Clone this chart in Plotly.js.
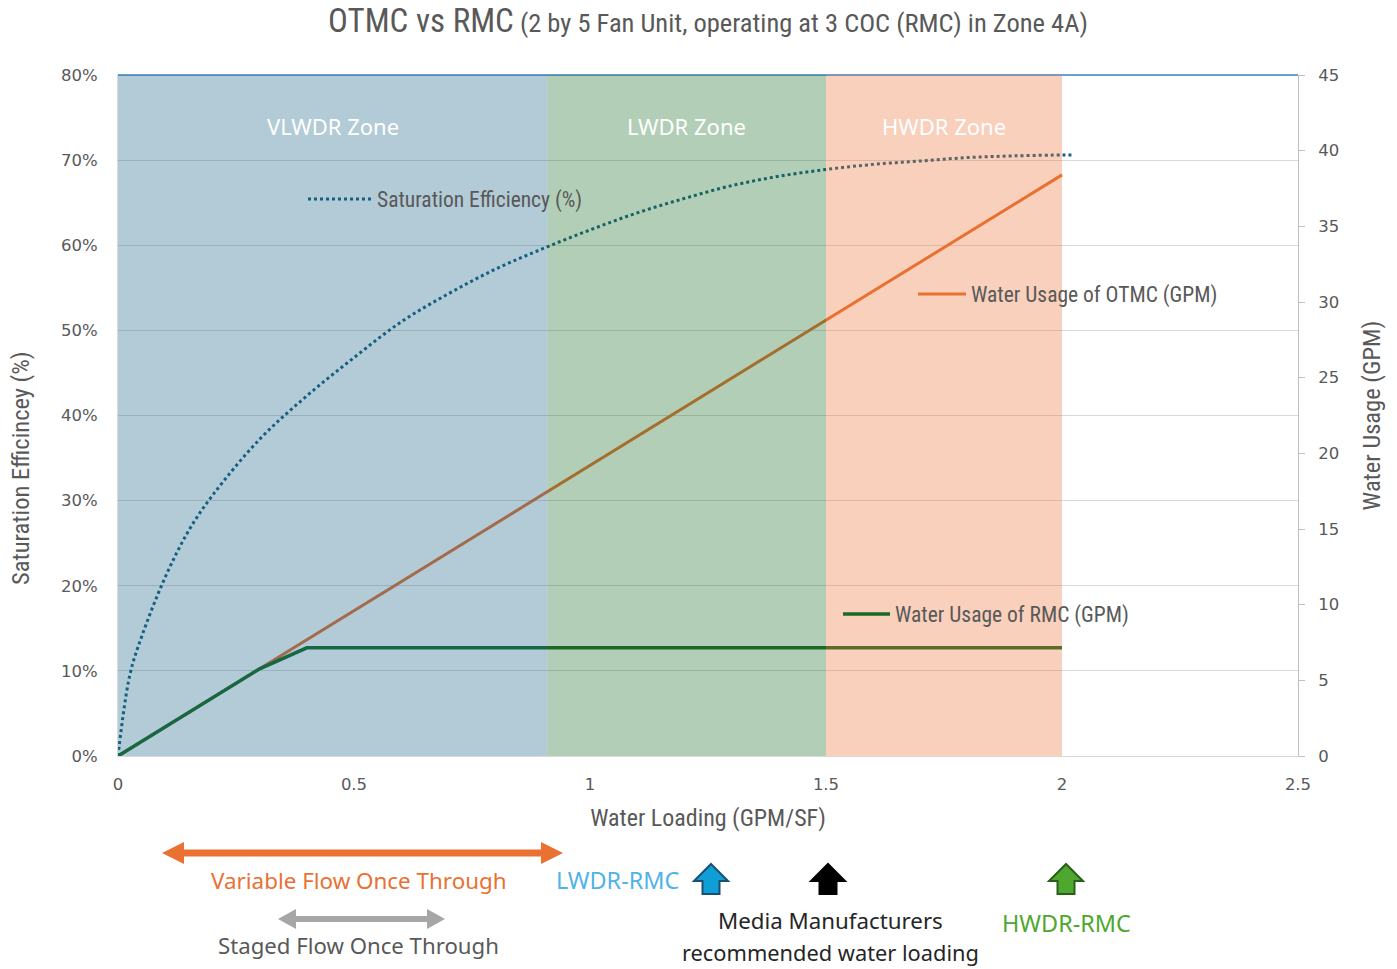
<!DOCTYPE html>
<html>
<head>
<meta charset="utf-8">
<script src="https://cdn.plot.ly/plotly-3.0.1.min.js"></script>
<style>html,body{margin:0;padding:0;background:#fff;}#chart{width:1397px;height:969px;}</style>
</head>
<body>
<div id="chart"></div>
<script>
// ---- data ----
const waterLoading = [0, 0.3, 0.4, 0.5, 0.75, 1.0, 1.25, 1.5, 1.75, 2.0];
const otmcGpm = [0, 5.76, 7.68, 9.6, 14.4, 19.2, 24.0, 28.8, 33.6, 38.4];
const rmcGpm = [0, 5.76, 7.15, 7.15, 7.15, 7.15, 7.15, 7.15, 7.15, 7.15];
const satLoading = [0, 0.025, 0.05, 0.1, 0.15, 0.2, 0.3, 0.4, 0.5, 0.6, 0.7, 0.8, 0.9, 1.0, 1.1, 1.2, 1.3, 1.4, 1.5, 1.6, 1.7, 1.8, 1.9, 2.0, 2.02];
const satEfficiency = [0, 9.5, 14, 21, 26.5, 30.6, 37.2, 42.3, 46.8, 51, 54.3, 57.2, 59.6, 61.8, 63.8, 65.5, 67.0, 68.1, 68.9, 69.5, 69.9, 70.3, 70.5, 70.6, 70.6];
const zoneNames = ['VLWDR Zone', 'LWDR Zone', 'HWDR Zone'];
const zoneStart = [0, 0.91, 1.5];
const zoneEnd = [0.91, 1.5, 2.0];
const zoneColors = ['#156082', '#196B24', '#E97132'];
const xTickVals = [0, 0.5, 1, 1.5, 2, 2.5];
const xTickText = ['0', '0.5', '1', '1.5', '2', '2.5'];

// ---- page geometry helpers (for decorations only) ----
const W = 1397, H = 969, ML = 118, MR = 99, MT = 75, MB = 213;
const PW = W - ML - MR, PH = H - MT - MB;
const px = v => (v - ML) / PW;
const py = v => (H - MB - v) / PH;

const NARROW = '"Liberation Sans Narrow", "Arial Narrow", "Roboto Condensed", sans-serif';
const SANS = '"Noto Sans", "Open Sans", sans-serif';
const TICKF = '"DejaVu Sans", sans-serif';
const GRAY = '#595959';

const traces = [
  {x: satLoading, y: satEfficiency, type: 'scatter', mode: 'lines', line: {shape: 'spline', color: '#156082', width: 3, dash: 'dot'},
   name: 'Saturation Efficiency (%)', legend: 'legend', showlegend: true, yaxis: 'y'},
  {x: waterLoading, y: otmcGpm, type: 'scatter', mode: 'lines', line: {color: '#E97132', width: 3},
   name: 'Water Usage of OTMC (GPM)', legend: 'legend2', showlegend: true, yaxis: 'y2'},
  {x: waterLoading, y: rmcGpm, type: 'scatter', mode: 'lines', line: {color: '#196B24', width: 3.5},
   name: 'Water Usage of RMC (GPM)', legend: 'legend3', showlegend: true, yaxis: 'y2'}
];

const shapes = [
  {type: 'line', xref: 'paper', yref: 'paper', x0: 0, x1: 1, y0: 1, y1: 1, line: {color: '#6a9fd0', width: 2}, layer: 'above'}
];
zoneNames.forEach((n, i) => shapes.push({type: 'rect', xref: 'x', yref: 'y', x0: zoneStart[i], x1: zoneEnd[i], y0: 0, y1: 80,
  fillcolor: zoneColors[i], opacity: 0.33, line: {width: 0}, layer: 'above'}));

function hDouble(x0, x1, yc, shaft, headLen, headHalf, color) {
  const p = `M ${px(x0)} ${py(yc)} L ${px(x0 + headLen)} ${py(yc - headHalf)} L ${px(x0 + headLen)} ${py(yc - shaft / 2)} ` +
    `L ${px(x1 - headLen)} ${py(yc - shaft / 2)} L ${px(x1 - headLen)} ${py(yc - headHalf)} L ${px(x1)} ${py(yc)} ` +
    `L ${px(x1 - headLen)} ${py(yc + headHalf)} L ${px(x1 - headLen)} ${py(yc + shaft / 2)} L ${px(x0 + headLen)} ${py(yc + shaft / 2)} ` +
    `L ${px(x0 + headLen)} ${py(yc + headHalf)} Z`;
  return {type: 'path', xref: 'paper', yref: 'paper', path: p, fillcolor: color, line: {color: color, width: 0}};
}
function upArrow(xc, tipY, baseY, bottomY, headHalf, shaftHalf, fill, outline) {
  const p = `M ${px(xc)} ${py(tipY)} L ${px(xc + headHalf)} ${py(baseY)} L ${px(xc + shaftHalf)} ${py(baseY)} ` +
    `L ${px(xc + shaftHalf)} ${py(bottomY)} L ${px(xc - shaftHalf)} ${py(bottomY)} L ${px(xc - shaftHalf)} ${py(baseY)} ` +
    `L ${px(xc - headHalf)} ${py(baseY)} Z`;
  return {type: 'path', xref: 'paper', yref: 'paper', path: p, fillcolor: fill, line: {color: outline, width: 2}};
}
shapes.push(hDouble(162, 563, 853, 7, 22, 11, '#E97132'));
shapes.push(hDouble(278, 445, 919, 6, 18, 10, '#A6A6A6'));
shapes.push(upArrow(711, 864, 881, 894, 17, 8.5, '#0F9ED5', '#1b4f72'));
shapes.push(upArrow(828, 864, 881, 894, 17, 8.5, '#000000', '#000000'));
shapes.push(upArrow(1066, 864, 881, 894, 17, 8.5, '#4EA72E', '#285f1a'));

const annotations = [];
zoneNames.forEach((n, i) => annotations.push({text: n, xref: 'x', yref: 'paper', x: (zoneStart[i] + zoneEnd[i]) / 2, y: py(126),
  showarrow: false, font: {family: SANS, size: 22, color: '#ffffff'}, xanchor: 'center', yanchor: 'middle'}));
function note(text, xc, yc, color, size) {
  annotations.push({text: text, xref: 'paper', yref: 'paper', x: px(xc), y: py(yc), showarrow: false, borderpad: 0,
    font: {family: SANS, size: size, color: color}, xanchor: 'center', yanchor: 'middle'});
}
note('Variable Flow Once Through', 359, 880, '#E97132', 22.4);
note('LWDR-RMC', 617, 880, '#4FB3E8', 23.4);
note('Staged Flow Once Through', 358, 945, GRAY, 22.2);
note('Media Manufacturers', 830, 921, '#262626', 22.3);
note('recommended water loading', 830, 952, '#262626', 21.8);
note('HWDR-RMC', 1066, 923, '#4EA72E', 23.4);
annotations.push({text: 'Saturation Efficincey (%)', xref: 'paper', yref: 'paper', x: px(20), y: py(468), textangle: -90,
  showarrow: false, font: {family: NARROW, size: 24.5, color: GRAY}, xanchor: 'center', yanchor: 'middle'});

const legendBase = {bgcolor: 'rgba(0,0,0,0)', xanchor: 'left', yanchor: 'middle', font: {family: NARROW, size: 21.5, color: GRAY}};

const layout = {
  width: W, height: H,
  showlegend: true,
  margin: {l: ML, r: MR, t: MT, b: MB, pad: 0},
  paper_bgcolor: '#ffffff', plot_bgcolor: '#ffffff',
  title: {text: '<span style="font-size:33px">OTMC vs RMC</span> (2 by 5 Fan Unit, operating at 3 COC (RMC) in Zone 4A)',
    x: 0.5, xref: 'paper', xanchor: 'center', y: 1 - 23 / H, yanchor: 'middle', font: {family: NARROW, size: 26.5, color: GRAY}},
  xaxis: {range: [0, 2.5], tickvals: xTickVals, ticktext: xTickText, showgrid: false, zeroline: false, showline: true,
    linecolor: '#d9d9d9', ticks: '', ticklabelstandoff: 13, tickfont: {family: TICKF, size: 16.5, color: GRAY},
    title: {text: 'Water Loading (GPM/SF)', standoff: 16, font: {family: NARROW, size: 24, color: GRAY}}},
  yaxis: {range: [0, 80], dtick: 10, ticksuffix: '%', gridcolor: '#d9d9d9', gridwidth: 1, zeroline: false, showline: true,
    linecolor: '#d9d9d9', ticks: '', ticklabelstandoff: 16, tickfont: {family: TICKF, size: 16.5, color: GRAY}},
  yaxis2: {range: [0, 45], dtick: 5, overlaying: 'y', side: 'right', showgrid: false, zeroline: false, showline: true,
    linecolor: '#bfbfbf', ticks: 'outside', ticklen: 6, tickcolor: '#bfbfbf', ticklabelstandoff: 10,
    tickfont: {family: TICKF, size: 16.5, color: GRAY},
    title: {text: 'Water Usage (GPM)', standoff: 24, font: {family: NARROW, size: 24.5, color: GRAY}}},
  legend: Object.assign({}, legendBase, {x: px(303), y: py(199), itemwidth: 64}),
  legend2: Object.assign({}, legendBase, {x: px(913), y: py(294), itemwidth: 48}),
  legend3: Object.assign({}, legendBase, {x: px(838), y: py(614), itemwidth: 47}),
  shapes: shapes,
  annotations: annotations
};

Plotly.newPlot('chart', traces, layout, {displayModeBar: false, staticPlot: true});
</script>
</body>
</html>
